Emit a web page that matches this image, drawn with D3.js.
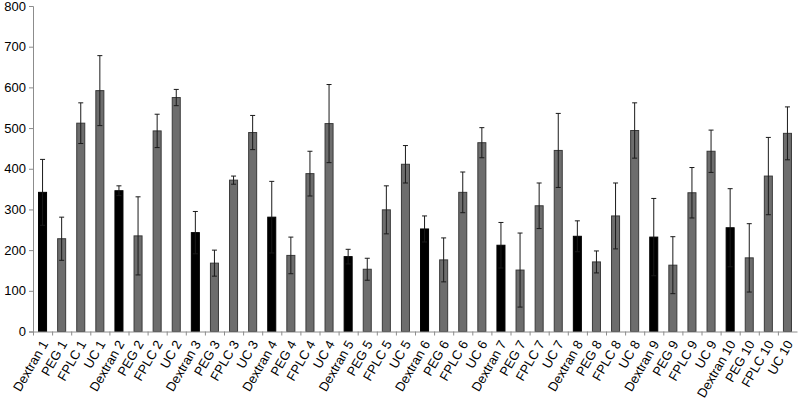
<!DOCTYPE html>
<html>
<head>
<meta charset="utf-8">
<script src="https://cdn.jsdelivr.net/npm/d3@7"></script>
<style>
  body { margin: 0; background: #fff; }
  svg text { font-family: "Liberation Sans", Arial, sans-serif; fill: #000; }
</style>
</head>
<body>
<svg id="plot"></svg>
<script>
const width = 799;
const height = 400;
const margin = {top: 6, right: 2, bottom: 68.5, left: 33};

// datos
const categories = [
  "Dextran 1", "PEG 1", "FPLC 1", "UC 1",
  "Dextran 2", "PEG 2", "FPLC 2", "UC 2",
  "Dextran 3", "PEG 3", "FPLC 3", "UC 3",
  "Dextran 4", "PEG 4", "FPLC 4", "UC 4",
  "Dextran 5", "PEG 5", "FPLC 5", "UC 5",
  "Dextran 6", "PEG 6", "FPLC 6", "UC 6",
  "Dextran 7", "PEG 7", "FPLC 7", "UC 7",
  "Dextran 8", "PEG 8", "FPLC 8", "UC 8",
  "Dextran 9", "PEG 9", "FPLC 9", "UC 9",
  "Dextran 10", "PEG 10", "FPLC 10", "UC 10"
];
const values = [
  342, 228, 512, 592,
  346, 235, 493, 575,
  243, 168, 372, 489,
  281, 187, 388, 511,
  184, 153, 299, 411,
  252, 176, 342, 464,
  212, 151, 309, 445,
  234, 171, 284, 494,
  232, 163, 341, 443,
  255, 181, 382, 487
];
const errors = [
  81, 53, 50, 86,
  12, 96, 41, 20,
  52, 32, 10, 42,
  88, 45, 55, 96,
  18, 27, 59, 46,
  32, 54, 50, 37,
  56, 91, 56, 91,
  38, 27, 81, 68,
  95, 70, 62, 52,
  96, 84, 95, 65
];
const yTicks = [0, 100, 200, 300, 400, 500, 600, 700, 800];

const data = categories.map((c, i) => ({name: c, value: values[i], err: errors[i]}));

const svg = d3.select("#plot")
  .attr("width", width)
  .attr("height", height);

const x = d3.scaleBand()
  .domain(categories)
  .range([margin.left, width - margin.right])
  .paddingInner(0.58)
  .paddingOuter(0.29);

const y = d3.scaleLinear()
  .domain([0, 800])
  .range([height - margin.bottom, margin.top]);

// barras
svg.append("g")
  .selectAll("rect")
  .data(data)
  .join("rect")
    .attr("x", d => x(d.name))
    .attr("y", d => y(d.value))
    .attr("width", x.bandwidth())
    .attr("height", d => y(0) - y(d.value))
    .attr("fill", d => d.name.startsWith("Dextran") ? "#000" : "#6d6d6d")
    .attr("stroke", d => d.name.startsWith("Dextran") ? "#000" : "#3a3a3a")
    .attr("stroke-width", 1);

// barras de error
const eb = svg.append("g")
  .attr("stroke", "#1a1a1a")
  .attr("stroke-width", 1)
  .selectAll("g")
  .data(data)
  .join("g")
    .attr("transform", d => "translate(" + (x(d.name) + x.bandwidth() / 2) + ",0)");

eb.append("line")
  .attr("x1", 0).attr("x2", 0)
  .attr("y1", d => y(d.value - d.err))
  .attr("y2", d => y(d.value + d.err));
eb.append("line")
  .attr("x1", -2.5).attr("x2", 2.5)
  .attr("y1", d => y(d.value + d.err))
  .attr("y2", d => y(d.value + d.err));
eb.append("line")
  .attr("x1", -2.5).attr("x2", 2.5)
  .attr("y1", d => y(d.value - d.err))
  .attr("y2", d => y(d.value - d.err));

// eje y
const yAxis = svg.append("g")
  .attr("transform", "translate(" + margin.left + ",0)")
  .call(d3.axisLeft(y).tickValues(yTicks).tickSize(4).tickPadding(3));
yAxis.selectAll("text").style("font-size", "13px");

// eje x
const xAxis = svg.append("g")
  .attr("transform", "translate(0," + y(0) + ")")
  .call(d3.axisBottom(x).tickSize(0).tickFormat(""));

// marcas entre categorías
const gap = x.step() * x.paddingInner() / 2;
svg.append("g")
  .selectAll("line")
  .data(categories)
  .join("line")
    .attr("x1", d => x(d) - gap + 0.5)
    .attr("x2", d => x(d) - gap + 0.5)
    .attr("y1", y(0))
    .attr("y2", y(0) + 4)
    .attr("stroke", "#8c8c8c");

[yAxis, xAxis].forEach(a => {
  a.select(".domain").attr("stroke", "#8c8c8c");
  a.selectAll(".tick line").attr("stroke", "#8c8c8c");
});

// etiquetas
svg.append("g")
  .selectAll("text")
  .data(categories)
  .join("text")
    .attr("transform", d => "translate(" + (x(d) + x.bandwidth() / 2 + 2) + "," + (y(0) + 10) + ") rotate(-60)")
    .attr("text-anchor", "end")
    .attr("dy", "0.35em")
    .style("font-size", "13px")
    .text(d => d);
</script>
</body>
</html>
